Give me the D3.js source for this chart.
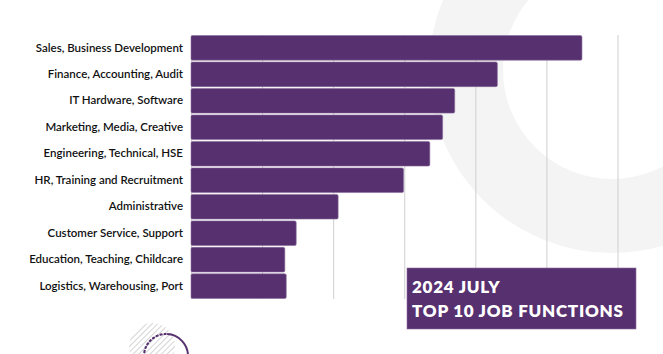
<!DOCTYPE html>
<html>
<head>
<meta charset="utf-8">
<script src="https://cdn.jsdelivr.net/npm/d3@7"></script>
<style>
  body { margin: 0; background: #fff; }
  svg { display: block; }
</style>
</head>
<body>
<div id="chart"></div>
<script>
// job functions, top to bottom
var categories = [
  "Sales, Business Development",
  "Finance, Accounting, Audit",
  "IT Hardware, Software",
  "Marketing, Media, Creative",
  "Engineering, Technical, HSE",
  "HR, Training and Recruitment",
  "Administrative",
  "Customer Service, Support",
  "Education, Teaching, Childcare",
  "Logistics, Warehousing, Port"
];
// share of postings (gridline step = 2)
var values = [11.0, 8.62, 7.42, 7.08, 6.72, 5.98, 4.14, 2.96, 2.64, 2.68];
var gridTicks = [0, 2, 4, 6, 8, 10, 12];
var titleLines = ["2024 JULY", "TOP 10 JOB FUNCTIONS"];

var width = 663, height = 354;
var margin = {top: 35, right: 46, bottom: 55, left: 191};

var purple = "#57306f";

var svg = d3.select("#chart").append("svg")
    .attr("width", width)
    .attr("height", height);

// background decoration: big light ring top right
var deco = svg.append("g").attr("class", "deco");
deco.append("circle")
    .attr("cx", 612).attr("cy", 70).attr("r", 146)
    .attr("fill", "none")
    .attr("stroke", "#f4f4f4")
    .attr("stroke-width", 74);

var x = d3.scaleLinear()
    .domain([0, 12])
    .range([margin.left, margin.left + 426.5]);

var y = d3.scaleBand()
    .domain(categories)
    .range([margin.top, height - margin.bottom])
    .paddingInner(0.07)
    .paddingOuter(0.02);

// gridlines
svg.append("g")
    .attr("class", "grid")
    .selectAll("line")
    .data(gridTicks)
    .enter().append("line")
      .attr("x1", function(d) { return x(d) + 0.5; })
      .attr("x2", function(d) { return x(d) + 0.5; })
      .attr("y1", margin.top)
      .attr("y2", height - margin.bottom)
      .attr("stroke", "#cfcfcf")
      .attr("stroke-width", 1);

// bars
svg.append("g")
    .attr("class", "bars")
    .selectAll("rect")
    .data(values)
    .enter().append("rect")
      .attr("x", x(0))
      .attr("y", function(d, i) { return y(categories[i]); })
      .attr("width", function(d) { return x(d) - x(0); })
      .attr("height", y.bandwidth())
      .attr("rx", 1.5)
      .attr("fill", purple)
      .attr("stroke", "#8a6c9c")
      .attr("stroke-width", 0.6);

// category labels
var yAxis = d3.axisLeft(y).tickSize(0).tickPadding(8);
svg.append("g")
    .attr("class", "y-axis")
    .attr("transform", "translate(" + (margin.left) + ",0)")
    .call(yAxis)
    .call(function(g) { g.select(".domain").remove(); })
    .selectAll("text")
      .attr("fill", "#111")
      .style("font-family", "Lato, 'Open Sans', sans-serif")
      .style("font-size", "11.5px")
      .style("font-weight", 600);

// title box
var box = svg.append("g").attr("class", "title")
    .attr("transform", "translate(407,268)");
box.append("rect")
    .attr("width", 229).attr("height", 61)
    .attr("fill", purple)
    .attr("stroke", "#8a6c9c")
    .attr("stroke-width", 0.6);
box.selectAll("text")
    .data(titleLines)
    .enter().append("text")
      .attr("x", 5)
      .attr("y", function(d, i) { return 25 + i * 24; })
      .attr("fill", "#fff")
      .style("font-family", "Lato, sans-serif")
      .style("font-weight", 800)
      .style("font-size", "17px")
      .style("letter-spacing", "0.75px")
      .text(function(d) { return d; });

// bottom-left decoration: hatched disc + dotted/solid arc
var defs = svg.append("defs");
var pat = defs.append("pattern")
    .attr("id", "hatch")
    .attr("width", 4).attr("height", 4)
    .attr("patternUnits", "userSpaceOnUse")
    .attr("patternTransform", "rotate(45)");
pat.append("line")
    .attr("x1", 0).attr("y1", 0).attr("x2", 0).attr("y2", 4)
    .attr("stroke", "#d4d4d4").attr("stroke-width", 2);

svg.append("circle")
    .attr("cx", 152).attr("cy", 346).attr("r", 23)
    .attr("fill", "url(#hatch)");

var small = svg.append("g").attr("transform", "translate(166,356)");
small.append("path")
    .attr("d", d3.arc()({innerRadius: 22, outerRadius: 22, startAngle: -Math.PI / 2, endAngle: 0.05}))
    .attr("fill", "none")
    .attr("stroke", purple)
    .attr("stroke-width", 2.2)
    .attr("stroke-dasharray", "0.1,4")
    .attr("stroke-linecap", "round");
small.append("path")
    .attr("d", d3.arc()({innerRadius: 22, outerRadius: 22, startAngle: 0.05, endAngle: Math.PI / 2}))
    .attr("fill", "none")
    .attr("stroke", purple)
    .attr("stroke-width", 2);
</script>
</body>
</html>
